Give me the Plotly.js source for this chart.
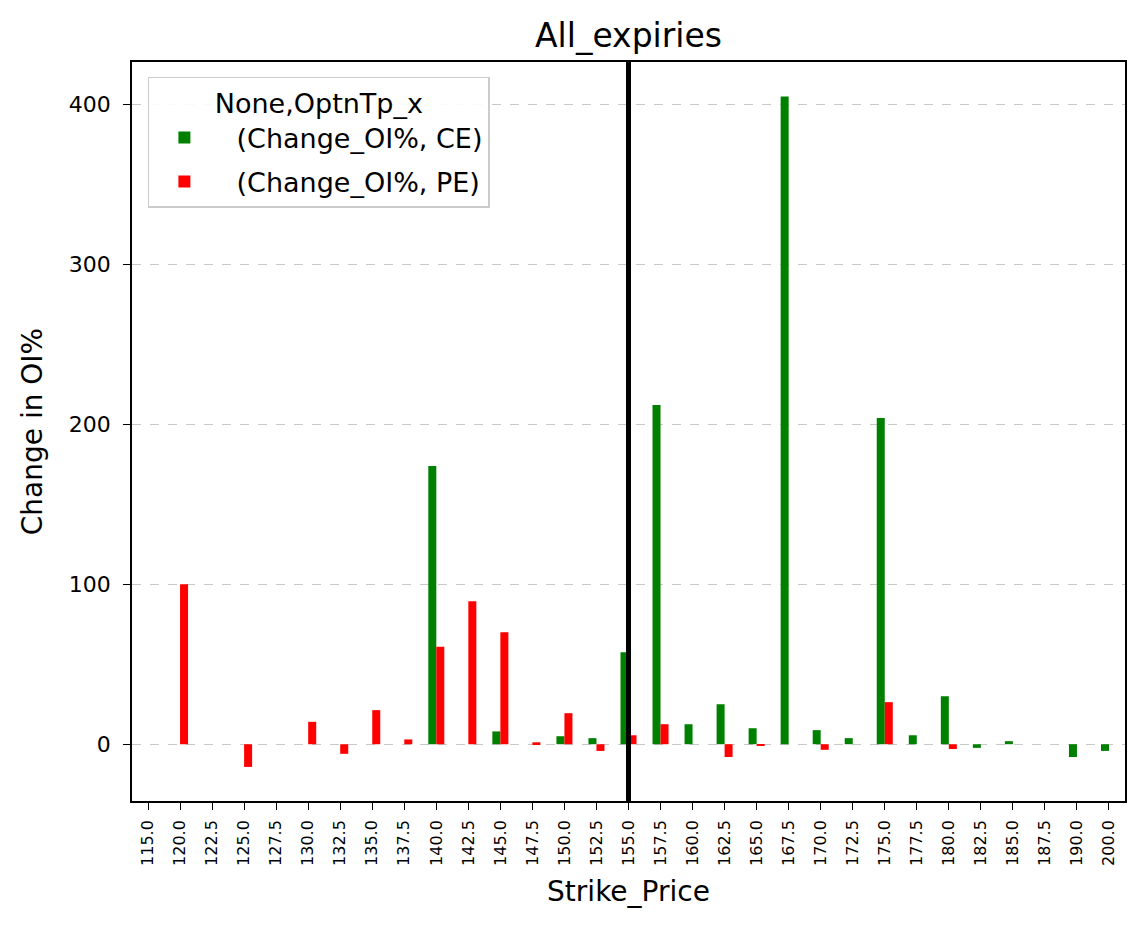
<!DOCTYPE html>
<html>
<head>
<meta charset="utf-8">
<script src="https://cdn.plot.ly/plotly-3.0.1.min.js"></script>
<style>html,body{margin:0;padding:0;background:#fff;}#chart{width:1143px;height:929px;}</style>
</head>
<body>
<div id="chart"></div>
<script>
const strikes = ["115.0","120.0","122.5","125.0","127.5","130.0","132.5","135.0","137.5","140.0","142.5","145.0","147.5","150.0","152.5","155.0","157.5","160.0","162.5","165.0","167.5","170.0","172.5","175.0","177.5","180.0","182.5","185.0","187.5","190.0","200.0"];
const ceChange = [0,0,0,0,0,0,0,0,0,174,0,8,0,5,3.8,57.5,212,12.5,25,10,405,8.8,3.8,204,5.6,30,-2.3,1.9,0,-8,-4.2];
const peChange = [0,100,0,-14.2,0,14,-6,21.3,3,61,89.4,70,1.2,19.4,-4.2,5.6,12.5,0,-8,-0.6,0,-3.5,0,26.3,0,-3,0,0,0,0,0];
const spotStrike = "155.0";
const fontFam = "DejaVu Sans, sans-serif";

const traces = [
  {type:"bar", x:strikes, y:ceChange, name:"  (Change_OI%, CE)", legendgroup:"ce", marker:{color:"#008000", line:{width:0}}},
  {type:"bar", x:strikes, y:peChange, name:"  (Change_OI%, PE)", legendgroup:"pe", marker:{color:"#ff0000", line:{width:0}}}
];

const spotIdx = strikes.indexOf(spotStrike);

const layout = {
  width:1143, height:929,
  paper_bgcolor:"#fff", plot_bgcolor:"#fff",
  font:{family:fontFam, color:"#000"},
  margin:{l:132, r:18, t:62, b:128},
  barmode:"group", bargap:0.5, bargroupgap:0,
  title:{text:"All_expiries", font:{size:33, family:fontFam}, xref:"paper", x:0.5, xanchor:"center", y:0.962, yanchor:"middle"},
  xaxis:{
    type:"category", range:[-0.5,30.5], tickangle:-90,
    tickfont:{size:16}, ticks:"outside", ticklen:7, tickcolor:"#000", ticklabelstandoff:4,
    showline:true, linecolor:"#000", linewidth:1.5, mirror:true, showgrid:false, zeroline:false,
    title:{text:"Strike_Price", font:{size:28}, standoff:16}
  },
  yaxis:{
    range:[-35.5,426.5], tickvals:[0,100,200,300,400], ticktext:["0","100","200","300","400"],
    tickfont:{size:22}, ticks:"outside", ticklen:7, tickcolor:"#000", ticklabelstandoff:8,
    showline:true, linecolor:"#000", linewidth:1.5, mirror:true,
    showgrid:true, gridcolor:"#c8c8c8", griddash:"dash", gridwidth:1, zeroline:false,
    title:{text:"Change in OI%", font:{size:28}, standoff:18}
  },
  legend:{
    x:0.016, y:0.98, xanchor:"left", yanchor:"top",
    bgcolor:"rgba(255,255,255,0.9)", bordercolor:"#cccccc", borderwidth:1.5,
    font:{size:27},
    title:{text:"None,OptnTp_x", side:"top center", font:{size:27}},
    itemwidth:60, tracegroupgap:6
  },
  shapes:[
    {type:"line", xref:"x", yref:"paper", x0:spotIdx, x1:spotIdx, y0:0, y1:1, line:{color:"#000", width:5}}
  ]
};

Plotly.newPlot("chart", traces, layout, {displayModeBar:false});
</script>
</body>
</html>
